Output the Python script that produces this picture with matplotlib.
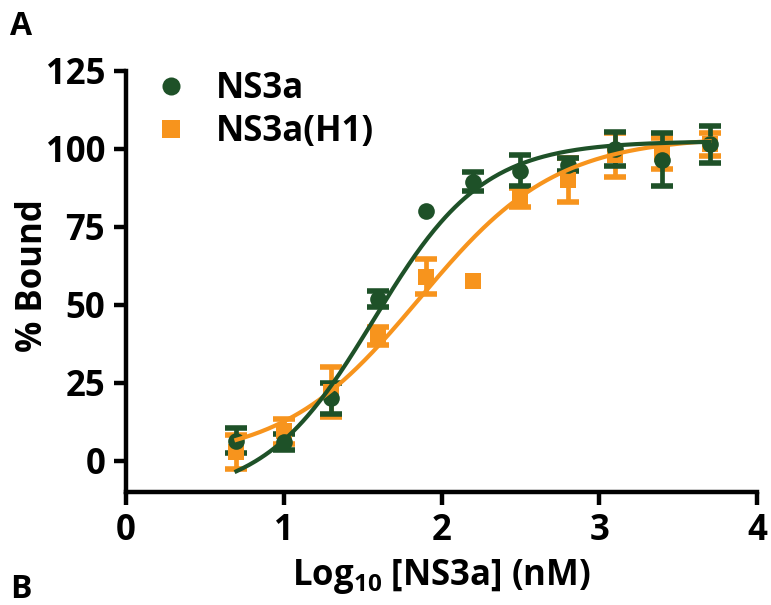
import numpy as np
import matplotlib
matplotlib.use("Agg")
import matplotlib.pyplot as plt
from matplotlib.lines import Line2D

plt.rcParams['font.family'] = ['Open Sans', 'DejaVu Sans']
plt.rcParams['font.weight'] = 'bold'
plt.rcParams['axes.labelweight'] = 'bold'
plt.rcParams['mathtext.fontset'] = 'custom'
plt.rcParams['mathtext.rm'] = 'Open Sans:bold'
plt.rcParams['mathtext.it'] = 'Open Sans:bold'
plt.rcParams['mathtext.bf'] = 'Open Sans:bold'

# log10 concentration of NS3a (nM)
log_conc = [0.7, 1.0, 1.3, 1.6, 1.9, 2.2, 2.5, 2.8, 3.1, 3.4, 3.7]

# NS3a: mean % bound and error (0 = single replicate, no bar)
ns3a_mean = [6.5, 6.0, 20.0, 51.8, 80.0, 89.5, 93.0, 95.0, 100.0, 96.5, 101.5]
ns3a_err = [4.0, 2.5, 5.0, 2.5, 0.0, 3.0, 5.0, 2.0, 5.5, 8.5, 6.0]

# NS3a(H1): mean % bound and error
h1_mean = [2.8, 9.5, 22.0, 40.0, 59.0, 57.6, 84.5, 90.0, 98.0, 98.5, 101.5]
h1_err = [5.5, 4.0, 8.0, 3.0, 5.6, 0.0, 3.0, 7.0, 7.0, 5.0, 3.6]

# four-parameter logistic fit parameters (bottom, top, logEC50, Hill slope)
ns3a_fit = (-12.0, 102.5, 1.57, 1.25)
h1_fit = (0.0, 104.0, 1.86, 1.0)

green = '#1E5128'
orange = '#F7941D'


def logistic(x, bottom, top, logec50, hill):
    return bottom + (top - bottom) / (1.0 + 10 ** ((logec50 - x) * hill))


fig = plt.figure(figsize=(7.71, 6.05), dpi=100)
ax = fig.add_axes([126 / 771, 113 / 605, 631 / 771, 421 / 605])

xfit = np.linspace(log_conc[0], log_conc[-1], 300)

for mean, err, fit, col, mk in [
    (h1_mean, h1_err, h1_fit, orange, 's'),
    (ns3a_mean, ns3a_err, ns3a_fit, green, 'o'),
]:
    idx = [i for i, e in enumerate(err) if e > 0]
    ax.errorbar([log_conc[i] for i in idx], [mean[i] for i in idx],
                yerr=[err[i] for i in idx], fmt='none', ecolor=col,
                elinewidth=3.4, capsize=8, capthick=4, zorder=2)
    ax.plot(log_conc, mean, linestyle='none', marker=mk, color=col,
            markersize=12, markeredgewidth=0, zorder=3)
    ax.plot(xfit, logistic(xfit, *fit), color=col, lw=3.0, zorder=4)

ax.set_xlim(0, 4)
ax.set_ylim(-10, 125)
ax.set_xticks([0, 1, 2, 3, 4])
ax.set_yticks([0, 25, 50, 75, 100, 125])
ax.spines['top'].set_visible(False)
ax.spines['right'].set_visible(False)
for s in ('left', 'bottom'):
    ax.spines[s].set_linewidth(3.2)
ax.tick_params(axis='both', width=3.2, length=9, labelsize=25)
ax.tick_params(axis='y', pad=6)
ax.tick_params(axis='x', pad=6)

ax.set_ylabel('% Bound', fontsize=25, fontweight='bold')
ax.yaxis.set_label_coords(-0.119, 0.515)
ax.set_xlabel('Log$_{10}$ [NS3a] (nM)', fontsize=25, fontweight='bold', labelpad=6)

handles = [
    Line2D([], [], linestyle='none', marker='o', color=green, markersize=13, markeredgewidth=0),
    Line2D([], [], linestyle='none', marker='s', color=orange, markersize=12.5, markeredgewidth=0),
]
ax.legend(handles, ['NS3a', 'NS3a(H1)'], loc='upper left',
          bbox_to_anchor=(-0.012, 1.075), frameon=False, fontsize=25,
          handletextpad=0.7, labelspacing=0.22, handlelength=1.2)

fig.text(10 / 771, 1 - 35 / 605, 'A', fontsize=23, fontweight='bold')
fig.text(10 / 771, 1 - 598 / 605, 'B', fontsize=23, fontweight='bold')

fig.savefig('out.png', dpi=100)
